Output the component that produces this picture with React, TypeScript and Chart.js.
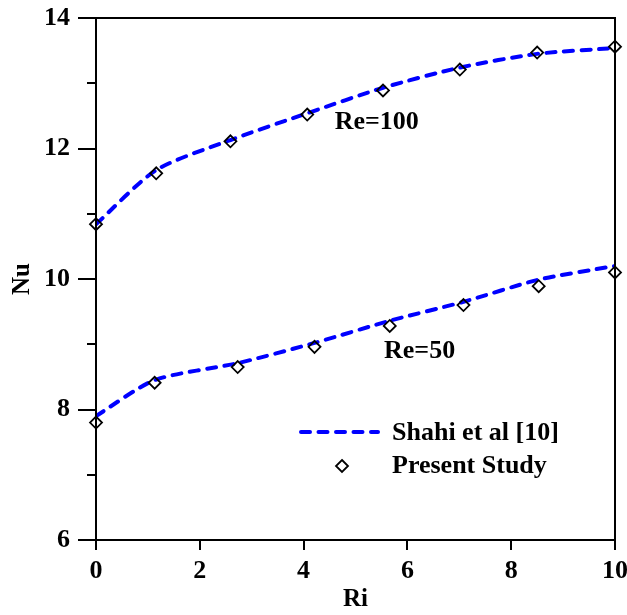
import React, { useEffect, useRef } from "react";
import { Chart, registerables } from "chart.js";

Chart.register(...registerables);

// Shahi et al [10] correlation curves
const riShahi100 = [0, 1.16, 2.59, 4.07, 5.53, 7.01, 8.5, 10];
const nuShahi100 = [10.84, 11.67, 12.13, 12.54, 12.93, 13.24, 13.45, 13.54];
const riShahi50 = [0, 1.13, 2.73, 4.21, 5.66, 7.08, 8.53, 10];
const nuShahi50 = [7.9, 8.45, 8.71, 9.02, 9.36, 9.65, 9.99, 10.2];

// Present study results
const riPresent100 = [0, 1.16, 2.59, 4.07, 5.53, 7.01, 8.5, 10];
const nuPresent100 = [10.84, 11.62, 12.11, 12.52, 12.89, 13.21, 13.47, 13.56];
const riPresent50 = [0, 1.13, 2.73, 4.21, 5.66, 7.08, 8.53, 10];
const nuPresent50 = [7.8, 8.41, 8.65, 8.96, 9.28, 9.6, 9.89, 10.1];

// Curve annotations, anchored in data units (left edge, vertical centre)
const annotations = [
  { text: "Re=100", ri: 4.6, nu: 12.4 },
  { text: "Re=50", ri: 5.55, nu: 8.89 },
];

const legendLabels = ["Shahi et al [10]", "Present Study"];

const FONT = "'Liberation Serif', 'Times New Roman', serif";
const BLUE = "#0000ff";
const DASH = [9, 8.5];

const toPoints = (xs: number[], ys: number[]) => xs.map((x, i) => ({ x, y: ys[i] }));

const framePlugin = {
  id: "frameAndExtras",
  afterDraw(chart: any) {
    const { ctx, chartArea, scales } = chart;
    const { left, right, top, bottom } = chartArea;
    ctx.save();

    // box around plot area
    ctx.strokeStyle = "#000";
    ctx.lineWidth = 2;
    ctx.strokeRect(left, top, right - left, bottom - top);

    // y axis ticks: long at labelled values, short in between
    const y = scales.y;
    for (let v = 6; v <= 14; v += 1) {
      const py = Math.round(y.getPixelForValue(v));
      const len = v % 2 === 0 ? 18 : 9;
      ctx.beginPath();
      ctx.moveTo(left - len, py);
      ctx.lineTo(left, py);
      ctx.stroke();
    }
    // x axis ticks
    const x = scales.x;
    for (let v = 0; v <= 10; v += 2) {
      const px = Math.round(x.getPixelForValue(v));
      ctx.beginPath();
      ctx.moveTo(px, bottom);
      ctx.lineTo(px, bottom + 10);
      ctx.stroke();
    }

    // curve labels
    ctx.fillStyle = "#000";
    ctx.font = `bold 26px ${FONT}`;
    ctx.textAlign = "left";
    ctx.textBaseline = "middle";
    for (const a of annotations) {
      ctx.fillText(a.text, x.getPixelForValue(a.ri), y.getPixelForValue(a.nu));
    }

    // legend
    const lx0 = 299;
    const lx1 = 380;
    const ly1 = 432;
    const ly2 = 466;
    ctx.strokeStyle = BLUE;
    ctx.lineWidth = 4;
    ctx.lineCap = "round";
    ctx.setLineDash(DASH);
    ctx.beginPath();
    ctx.moveTo(lx0 + 2, ly1);
    ctx.lineTo(lx1 - 2, ly1);
    ctx.stroke();
    ctx.setLineDash([]);
    ctx.lineCap = "butt";

    const mx = 342;
    const r = 6;
    ctx.strokeStyle = "#000";
    ctx.lineWidth = 1.8;
    ctx.beginPath();
    ctx.moveTo(mx, ly2 - r);
    ctx.lineTo(mx + r, ly2);
    ctx.lineTo(mx, ly2 + r);
    ctx.lineTo(mx - r, ly2);
    ctx.closePath();
    ctx.stroke();

    ctx.fillText(legendLabels[0], 392, ly1 + 1);
    ctx.fillText(legendLabels[1], 392, ly2);
    ctx.restore();
  },
};

export default function App() {
  const ref = useRef<HTMLCanvasElement | null>(null);

  useEffect(() => {
    document.body.style.margin = "0";
    const canvas = ref.current;
    if (!canvas) return;

    Chart.defaults.font.family = FONT;
    Chart.defaults.font.weight = "bold";
    Chart.defaults.font.size = 26;
    Chart.defaults.color = "#000";

    const lineDs = (data: any[]) => ({
      type: "line" as const,
      data,
      borderColor: BLUE,
      borderWidth: 4,
      borderDash: DASH,
      borderCapStyle: "round" as const,
      tension: 0.25,
      pointRadius: 0,
      fill: false,
      order: 2,
    });

    const markerDs = (data: any[]) => ({
      type: "line" as const,
      data,
      showLine: false,
      pointStyle: "rectRot" as const,
      pointRadius: 6,
      pointBorderWidth: 1.8,
      pointBorderColor: "#000",
      pointBackgroundColor: "rgba(0,0,0,0)",
      clip: false as const,
      order: 1,
    });

    const chart = new Chart(canvas, {
      type: "line",
      data: {
        datasets: [
          { label: legendLabels[0], ...lineDs(toPoints(riShahi100, nuShahi100)) },
          { label: legendLabels[0], ...lineDs(toPoints(riShahi50, nuShahi50)) },
          { label: legendLabels[1], ...markerDs(toPoints(riPresent100, nuPresent100)) },
          { label: legendLabels[1], ...markerDs(toPoints(riPresent50, nuPresent50)) },
        ],
      },
      options: {
        responsive: false,
        animation: false,
        layout: { padding: { left: 0, top: 18, right: 12, bottom: 0 } },
        plugins: {
          legend: { display: false },
          tooltip: { enabled: false },
        },
        scales: {
          x: {
            type: "linear",
            min: 0,
            max: 10,
            ticks: { stepSize: 2, padding: 6, maxRotation: 0, font: { size: 26, weight: "bold" } },
            grid: {
              drawOnChartArea: false,
              color: "rgba(0,0,0,0)",
              tickLength: 10,
            },
            border: { display: false },
            title: {
              display: true,
              text: "Ri",
              font: { size: 25, weight: "bold" },
              padding: { top: 0, bottom: 0 },
            },
            afterFit: (s: any) => {
              s.height = 75;
              s.paddingLeft = 0;
              s.paddingRight = 0;
            },
          },
          y: {
            type: "linear",
            min: 6,
            max: 14,
            ticks: {
              stepSize: 1,
              padding: 8,
              font: { size: 26, weight: "bold" },
              callback: (v: any) => (Number(v) % 2 === 0 ? String(v) : ""),
            },
            grid: {
              drawOnChartArea: false,
              color: "rgba(0,0,0,0)",
              tickLength: 18,
            },
            border: { display: false },
            title: {
              display: true,
              text: "Nu",
              font: { size: 25, weight: "bold" },
              padding: { top: 8, bottom: 0 },
            },
            afterFit: (s: any) => {
              s.width = 96;
              s.paddingTop = 0;
              s.paddingBottom = 0;
            },
          },
        },
      },
      plugins: [framePlugin],
    });

    return () => chart.destroy();
  }, []);

  return (
    <div style={{ position: "fixed", left: 0, top: 0, width: 627, height: 615, background: "#fff" }}>
      <canvas ref={ref} width={627} height={615} style={{ width: 627, height: 615 }} />
    </div>
  );
}
